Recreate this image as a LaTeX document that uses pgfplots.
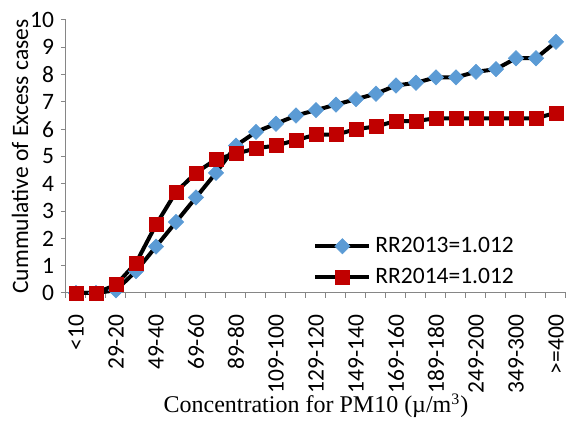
\documentclass[border=0pt]{standalone}
\usepackage{fontspec}
\setmainfont{Carlito}
\newfontfamily\timesfont{Liberation Serif}
\usepackage{pgfplots}
\pgfplotsset{compat=1.18}
\usetikzlibrary{calc}

\definecolor{exblue}{HTML}{5B9BD5}
\definecolor{exred}{HTML}{C00000}
\definecolor{axgray}{HTML}{868686}

\begin{document}
\begin{tikzpicture}
\begin{axis}[
  name=ax,
  scale only axis,
  width=250pt, height=136.5pt,
  xmin=-0.5, xmax=24.5,
  ymin=0, ymax=10,
  clip=false,
  axis x line*=bottom,
  axis y line*=left,
  axis line style={axgray, line width=0.5pt, -},
  tick align=outside,
  xtick={0,2,...,24},
  xticklabels={<10,29-20,49-40,69-60,89-80,109-100,129-120,149-140,169-160,189-180,249-200,349-300,>=400},
  minor xtick={-0.5,0.5,...,24.5},
  major x tick style={draw=none},
  minor x tick style={axgray, line width=0.5pt},
  minor tick length=2.5pt,
  ytick={0,1,...,10},
  major y tick style={axgray, line width=0.5pt},
  major tick length=2.5pt,
  /pgf/number format/assume math mode=true,
  tick label style={font=\fontsize{11.75}{14}\selectfont},
  xticklabel style={rotate=90, anchor=east, inner ysep=0pt, xshift=-5pt},
  ylabel={Cummulative of Excess cases},
  ylabel style={font=\fontsize{11.75}{14}\selectfont, yshift=-6pt},
  xlabel={\timesfont Concentration for PM10 (µ/m\textsuperscript{3})},
  xlabel style={font=\fontsize{12}{14}\selectfont, yshift=7pt},
  legend style={at={(0.49,0.0)}, anchor=south west, draw=none, fill=none,
    font=\fontsize{11.75}{14}\selectfont, row sep=2.5pt, inner sep=1pt},
  legend cell align=left,
  legend image code/.code={
    \draw[mark repeat=2, mark phase=2] plot coordinates {(0pt,0pt) (13.5pt,0pt) (27pt,0pt)};
  },
]
\addplot[black, line width=2pt, mark=square*, mark size=2.7pt,
  mark options={exblue, fill=exblue, rotate=45, line width=0.3pt}]
  coordinates {
  (0,0) (1,0) (2,0.1) (3,0.8) (4,1.7) (5,2.6) (6,3.5) (7,4.4) (8,5.4) (9,5.9)
  (10,6.2) (11,6.5) (12,6.7) (13,6.9) (14,7.1) (15,7.3) (16,7.6) (17,7.7)
  (18,7.9) (19,7.9) (20,8.1) (21,8.2) (22,8.6) (23,8.6) (24,9.2)
  };
\addplot[black, line width=2pt, mark=square*, mark size=3.5pt,
  mark options={exred, fill=exred, line width=0.3pt}]
  coordinates {
  (0,0) (1,0) (2,0.3) (3,1.1) (4,2.5) (5,3.7) (6,4.4) (7,4.9) (8,5.1) (9,5.3)
  (10,5.4) (11,5.6) (12,5.8) (13,5.8) (14,6.0) (15,6.1) (16,6.3) (17,6.3)
  (18,6.4) (19,6.4) (20,6.4) (21,6.4) (22,6.4) (23,6.4) (24,6.6)
  };
\legend{RR2013=1.012, RR2014=1.012}
\end{axis}
\pgfresetboundingbox
\path[use as bounding box] ($(ax.south west)+(-33pt,-64pt)$) rectangle ++(284.5pt,210.5pt);
\end{tikzpicture}
\end{document}
